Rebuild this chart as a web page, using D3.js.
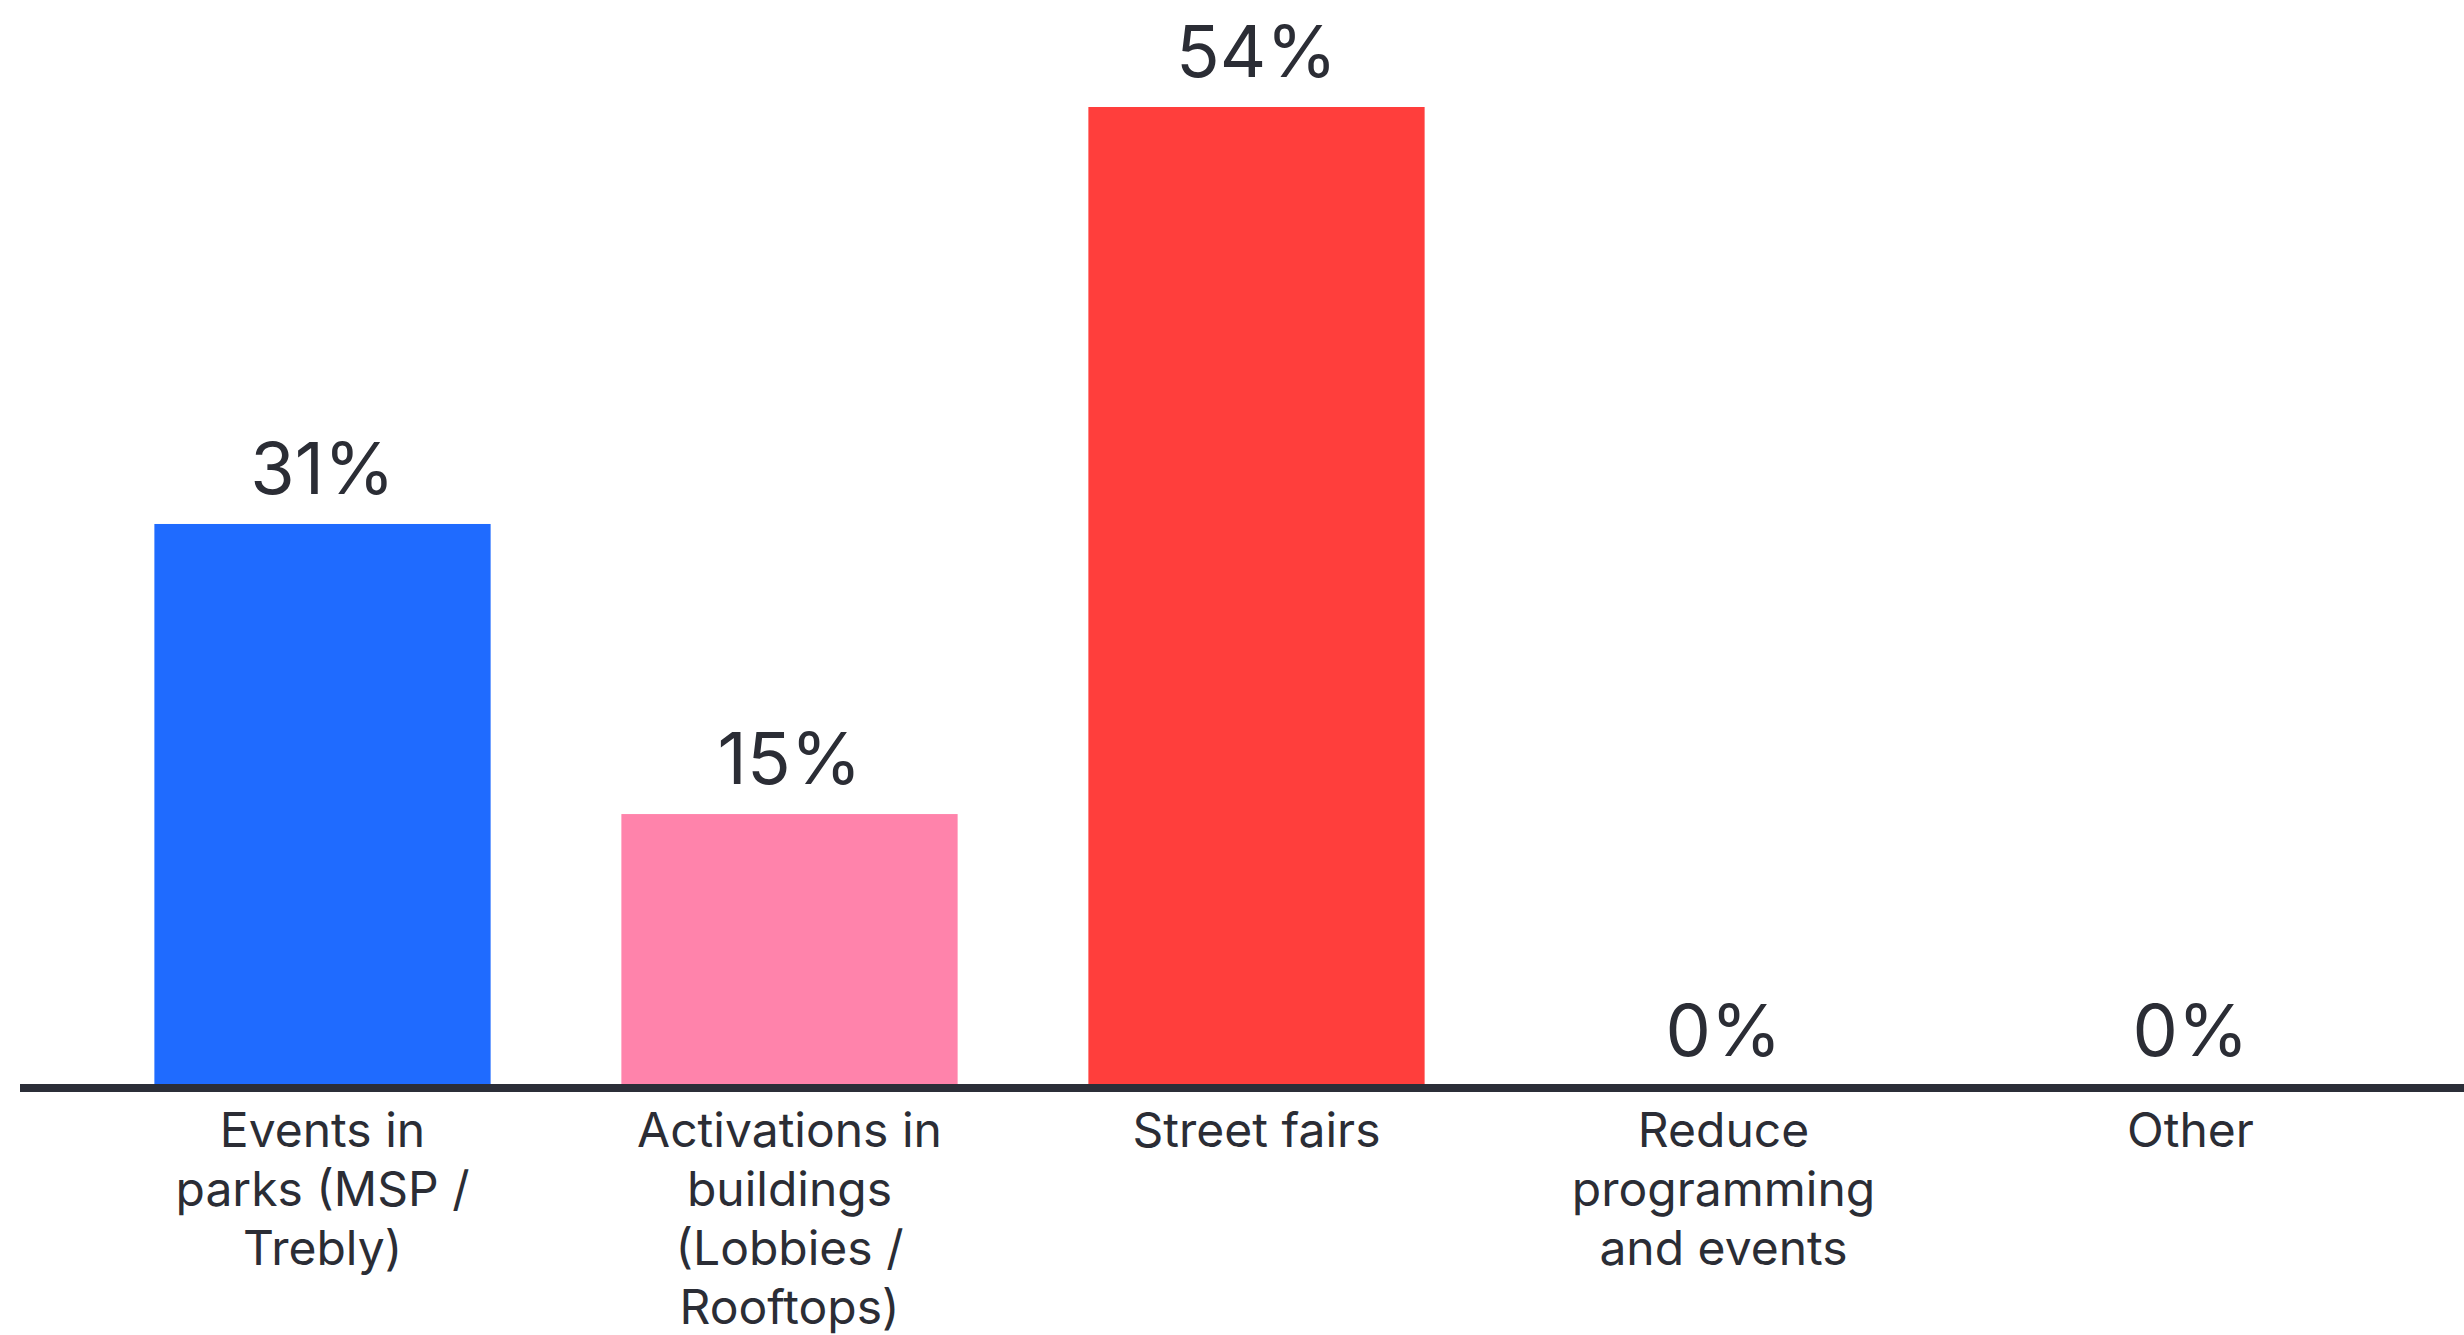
<!DOCTYPE html>
<html>
<head>
<meta charset="utf-8">
<script src="https://cdn.jsdelivr.net/npm/d3@7"></script>
<style>
  html, body { margin: 0; padding: 0; background: #ffffff; }
  svg { display: block; }
  text { font-family: Inter, "Noto Sans", sans-serif; fill: #2b2d35; }
</style>
</head>
<body>
<svg id="chart" width="2464" height="1335"></svg>
<script>
// Survey responses: share of respondents per option
const categories = [
  "Events in parks (MSP / Trebly)",
  "Activations in buildings (Lobbies / Rooftops)",
  "Street fairs",
  "Reduce programming and events",
  "Other"
];
const tickLines = [
  ["Events in", "parks (MSP /", "Trebly)"],
  ["Activations in", "buildings", "(Lobbies /", "Rooftops)"],
  ["Street fairs"],
  ["Reduce", "programming", "and events"],
  ["Other"]
];
const values = [31, 15, 54, 0, 0];
const barColors = ["#1f6bff", "#ff83ab", "#ff3e3c", "#ff3e3c", "#ff3e3c"];

const W = 2464, H = 1335;
const baseY = 1086, topY = 107;

const svg = d3.select("#chart");

const x = d3.scaleBand()
  .domain(categories)
  .range([89, 2424])
  .paddingInner(0.28)
  .paddingOuter(0.14);

const y = d3.scaleLinear()
  .domain([0, d3.max(values)])
  .range([baseY, topY]);

const data = categories.map((c, i) => ({ c, v: values[i], color: barColors[i], lines: tickLines[i] }));

// bars
svg.append("g")
  .selectAll("rect")
  .data(data.filter(d => d.v > 0))
  .join("rect")
  .attr("x", d => x(d.c))
  .attr("y", d => y(d.v))
  .attr("width", x.bandwidth())
  .attr("height", d => y(0) - y(d.v))
  .attr("fill", d => d.color);

// value labels
svg.append("g")
  .selectAll("text")
  .data(data)
  .join("text")
  .attr("x", d => x(d.c) + x.bandwidth() / 2)
  .attr("y", d => y(d.v) - 30)
  .attr("text-anchor", "middle")
  .style("font-size", "72px")
  .style("font-weight", 400)
  .text(d => d.v + "%");

// category axis
const axis = svg.append("g")
  .attr("transform", `translate(0,${baseY + 2})`)
  .call(d3.axisBottom(x).tickSize(0).tickPadding(0));

axis.select(".domain").remove();

axis.selectAll(".tick text")
  .attr("y", 0)
  .attr("dy", null)
  .style("font-size", "48px")
  .style("font-family", "Inter, 'Noto Sans', sans-serif")
  .attr("fill", "#2b2d35")
  .text(null)
  .each(function(c) {
    const lines = tickLines[categories.indexOf(c)];
    const t = d3.select(this);
    lines.forEach((ln, i) => {
      t.append("tspan")
        .attr("x", 0)
        .attr("y", 59 + i * 59)
        .text(ln);
    });
  });

// baseline
svg.append("line")
  .attr("x1", 20)
  .attr("x2", W)
  .attr("y1", baseY + 2)
  .attr("y2", baseY + 2)
  .attr("stroke", "#2b2e38")
  .attr("stroke-width", 8);
</script>
</body>
</html>
